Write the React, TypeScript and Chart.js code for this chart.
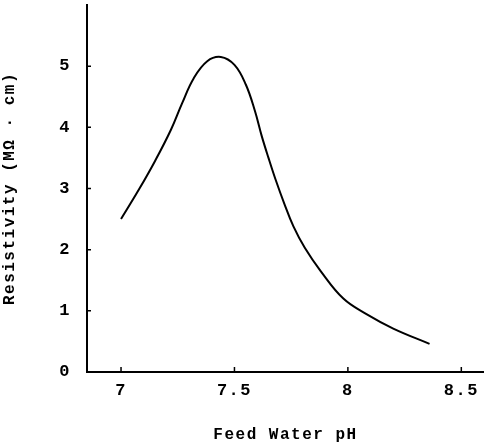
import React, { useEffect, useRef } from "react";
import { Chart, registerables } from "chart.js";

Chart.register(...registerables);

const phValues = [7.0, 7.08, 7.15, 7.22, 7.27, 7.32, 7.38, 7.44, 7.5, 7.55, 7.59, 7.62, 7.65, 7.68, 7.72, 7.76, 7.81, 7.88, 7.98, 8.08, 8.2, 8.36];
const resistivity = [2.5, 2.99, 3.45, 3.96, 4.4, 4.8, 5.08, 5.15, 5.02, 4.7, 4.27, 3.86, 3.5, 3.16, 2.75, 2.38, 2.03, 1.65, 1.2, 0.95, 0.71, 0.46];
const xTicks = [7, 7.5, 8, 8.5];
const xTickLabels = ["7", "7.5", "8", "8.5"];
const yTicks = [0, 1, 2, 3, 4, 5];
const xTitle = "Feed Water pH";
const yTitle = "Resistivity (MΩ · cm)";

const spacingPlugin = {
  id: "spacing",
  beforeLayout(chart: any) {
    chart.ctx.letterSpacing = "1.5px";
  },
  beforeDraw(chart: any) {
    chart.ctx.letterSpacing = "1.5px";
  },
  afterDraw(chart: any) {
    const ctx = chart.ctx;
    const xs = chart.scales.x;
    const ys = chart.scales.y;
    ctx.save();
    ctx.strokeStyle = "#000";
    ctx.lineWidth = 1.5;
    ctx.beginPath();
    xTicks.forEach((v) => {
      const px = xs.getPixelForValue(v);
      ctx.moveTo(px, ys.bottom);
      ctx.lineTo(px, ys.bottom - 5);
    });
    yTicks.forEach((v) => {
      if (v === 0) return;
      const py = ys.getPixelForValue(v);
      ctx.moveTo(xs.left, py);
      ctx.lineTo(xs.left + 4, py);
    });
    ctx.stroke();
    ctx.restore();
  },
};

export default function App() {
  const ref = useRef<HTMLCanvasElement>(null);
  useEffect(() => {
    if (!ref.current) return;
    Chart.defaults.font.family = "'Liberation Mono', monospace";
    Chart.defaults.font.weight = "bold";
    Chart.defaults.color = "#000";
    const chart = new Chart(ref.current, {
      type: "scatter",
      data: {
        datasets: [
          {
            data: phValues.map((x, i) => ({ x, y: resistivity[i] })),
            showLine: true,
            borderColor: "#000",
            borderWidth: 2,
            pointRadius: 0,
            tension: 0.4,
            fill: false,
          },
        ],
      },
      options: {
        animation: false,
        responsive: false,
        maintainAspectRatio: false,
        layout: { padding: { top: 5, right: 0, left: 0, bottom: 0 } },
        plugins: { legend: { display: false }, tooltip: { enabled: false } },
        scales: {
          x: {
            type: "linear",
            min: 6.85,
            max: 8.6,
            afterBuildTicks: (s: any) => {
              s.ticks = xTicks.map((v) => ({ value: v }));
            },
            afterFit: (s: any) => {
              s.height = 73;
              s.paddingLeft = 0;
              s.paddingRight = 0;
            },
            ticks: {
              padding: 9,
              font: { size: 17, weight: "bold" },
              callback: (v: any) => xTickLabels[xTicks.indexOf(Number(v))] ?? "",
              maxRotation: 0,
              autoSkip: false,
            },
            grid: { display: true, drawOnChartArea: false, drawTicks: false },
            border: { color: "#000", width: 2 },
            title: {
              display: true,
              text: xTitle,
              font: { size: 16, weight: "bold" },
              padding: { top: 16, bottom: 0 },
            },
          },
          y: {
            min: 0,
            max: 6,
            afterBuildTicks: (s: any) => {
              s.ticks = yTicks.map((v) => ({ value: v }));
            },
            afterFit: (s: any) => {
              s.width = 87;
              s.paddingTop = 0;
              s.paddingBottom = 0;
            },
            ticks: {
              padding: 16,
              font: { size: 17, weight: "bold" },
              autoSkip: false,
            },
            grid: { display: true, drawOnChartArea: false, drawTicks: false },
            border: { color: "#000", width: 2 },
            title: {
              display: true,
              text: yTitle,
              font: { size: 16, weight: "bold" },
              padding: { top: 0, bottom: 0 },
            },
          },
        },
      },
      plugins: [spacingPlugin],
    } as any);
    return () => chart.destroy();
  }, []);
  return (
    <div style={{ position: "fixed", left: 0, top: 0, width: 484, height: 445, background: "#fff" }}>
      <canvas ref={ref} width={484} height={445} style={{ width: 484, height: 445 }} />
    </div>
  );
}
